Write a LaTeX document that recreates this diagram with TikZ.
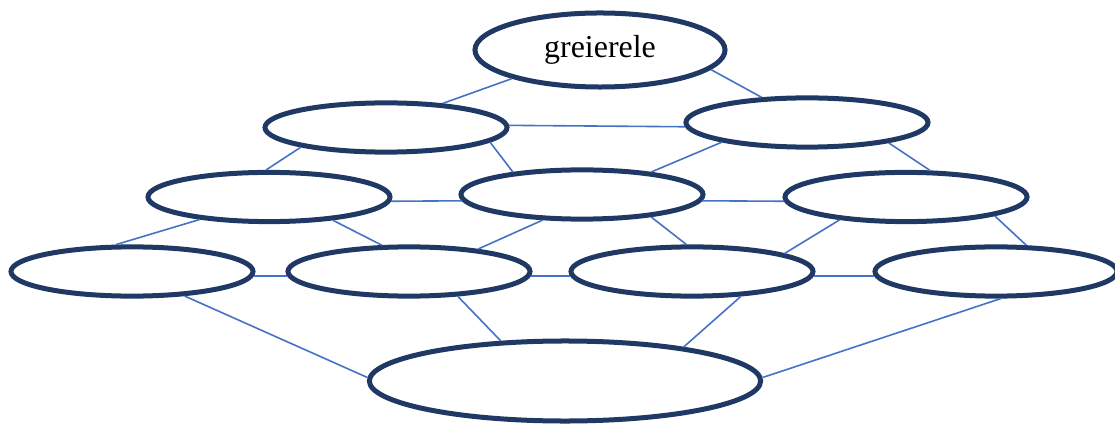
\documentclass[tikz,border=0pt]{standalone}
\usepackage{fontspec}
\setmainfont{Liberation Serif}
\usepackage{tikz}
\usetikzlibrary{shapes.geometric}
\definecolor{ringA}{HTML}{1F3864}
\definecolor{linkA}{HTML}{4472C4}

\begin{document}
\begin{tikzpicture}[x=0.025cm, y=-0.025cm,
    bubble/.style={ellipse, draw=ringA, line width=0.125cm, inner sep=0pt,
      minimum width=6.05cm, minimum height=1.23cm},
    link/.style={linkA, line width=0.04cm}]
      \useasboundingbox (0,0) rectangle (1115,425);

      % --- top ---
      \node[bubble, minimum width=6.25cm, minimum height=1.85cm,
        font=\fontsize{22.7}{27}\selectfont] (gre) at (600,50) {greierele};

      % --- second row ---
      \node[bubble] (a1) at (386,127.5) {};
      \node[bubble] (a2) at (807,122.5) {};

      % --- third row ---
      \node[bubble] (b1) at (269,197) {};
      \node[bubble] (b2) at (582,194.5) {};
      \node[bubble] (b3) at (906,197) {};

      % --- fourth row ---
      \node[bubble] (c1) at (132,271.5) {};
      \node[bubble] (c2) at (409,271.5) {};
      \node[bubble] (c3) at (692,271.5) {};
      \node[bubble] (c4) at (996,271.5) {};

      % --- bottom ---
      \node[bubble, minimum width=9.78cm, minimum height=2.0cm] (base) at (565,381) {};

      % top to second row
      \draw[link] (gre.-162) -- (a1.23);
      \draw[link] (gre.-10) -- (a2.151);
      \draw[link] (a1.1) -- (a2.182);

      % second row to third row
      \draw[link] (a1.-167) -- (b1.96);
      \draw[link] (a1.-8) -- (b2.162);
      \draw[link] (a2.-167) -- (b2.18);
      \draw[link] (a2.-14) -- (b3.48);
      \draw[link] (b1.-2) -- (b2.-177);
      \draw[link] (b2.-3) -- (b3.-178);

      % third row to fourth row
      \draw[link] (b1.-162) -- (c1.121);
      \draw[link] (b1.-20) -- (c2.136);
      \draw[link] (b2.-147) -- (c2.18);
      \draw[link] (b2.-18) -- (c3.102);
      \draw[link] (b3.-161) -- (c3.11);
      \draw[link] (b3.-12) -- (c4.41);
      \draw[link] (c1.-2) -- (c2.-178);
      \draw[link] (c2.-2) -- (c3.-178);
      \draw[link] (c3.-2) -- (c4.-178);

      % fourth row to bottom
      \draw[link] (c1.-25) -- (base.179);
      \draw[link] (c2.-27) -- (base.148);
      \draw[link] (c3.-27) -- (base.16);
      \draw[link] (c4.-80) -- (base.1);
    \end{tikzpicture}
\end{document}
